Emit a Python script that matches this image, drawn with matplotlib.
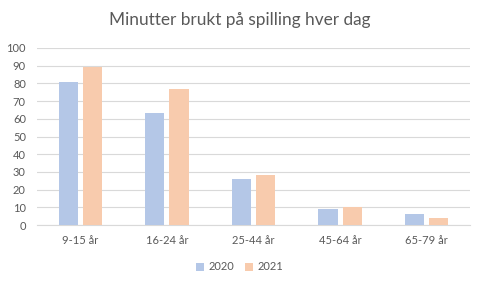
import matplotlib
matplotlib.use("Agg")
import matplotlib.pyplot as plt
import numpy as np

categories = ["9-15 år", "16-24 år", "25-44 år", "45-64 år", "65-79 år"]
values_2020 = [81, 63, 26, 9, 6]
values_2021 = [89, 77, 28, 10, 4]
series_names = ["2020", "2021"]
colors = ["#B4C7E7", "#F8CBAD"]
text_color = "#595959"

plt.rcParams['font.family'] = ['Lato', 'DejaVu Sans']

fig = plt.figure(figsize=(4.79, 2.87), dpi=100)
ax = fig.add_axes([37/479, 1-225/287, 433/479, 177/287])

x = np.arange(len(categories))
w = 0.22
gap = 0.06
ax.bar(x - (w+gap)/2, values_2020, width=w, color=colors[0], label=series_names[0], zorder=3)
ax.bar(x + (w+gap)/2, values_2021, width=w, color=colors[1], label=series_names[1], zorder=3)

ax.set_xlim(-0.5, len(categories)-0.5)
ax.set_ylim(0, 100)
ax.set_yticks(range(0, 101, 10))
ax.yaxis.grid(True, color="#D9D9D9", linewidth=0.8, zorder=0)
for s in ["top", "right", "left"]:
    ax.spines[s].set_visible(False)
ax.spines["bottom"].set_color("#D9D9D9")
ax.spines["bottom"].set_linewidth(0.8)
ax.tick_params(axis="both", length=0, colors=text_color, labelsize=8)
ax.tick_params(axis="x", pad=7)
ax.tick_params(axis="y", pad=8)
ax.set_xticks(x)
ax.set_xticklabels(categories)

fig.text(0.5, 1-20/287, "Minutter brukt på spilling hver dag", ha="center", va="center",
         fontsize=12.4, color=text_color)

fig.legend(loc="center", bbox_to_anchor=(0.5, 1-267/287), ncol=2, frameon=False,
           fontsize=8, labelcolor=text_color, handlelength=0.7, handleheight=0.7,
           handletextpad=0.4, columnspacing=1.0)

fig.savefig("out.png", dpi=100)
